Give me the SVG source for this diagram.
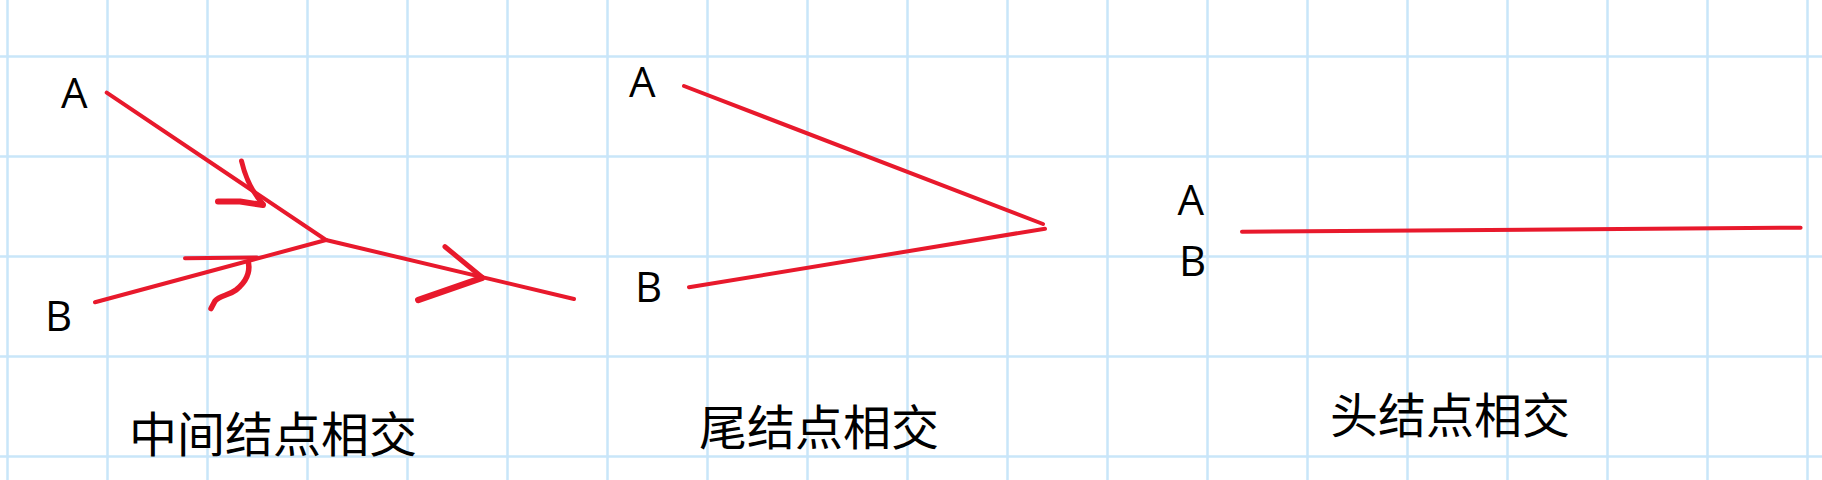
<svg xmlns="http://www.w3.org/2000/svg" width="1822" height="480" viewBox="0 0 1822 480">
<style>
.grid line{stroke:#c9e6f9;stroke-width:2.5}
.lbl{font-family:"Open Sans","Noto Sans",sans-serif;font-size:42px;fill:#000}
.ttl{font-family:"Noto Sans CJK SC","Noto Sans",sans-serif;font-size:48px;fill:#000}
.edge{stroke:#e8192c;stroke-width:4;stroke-linecap:round;fill:none}
.hand{stroke:#e8192c;stroke-linecap:round;stroke-linejoin:round;fill:none}
</style>
<rect width="1822" height="480" fill="#ffffff"/>
<g class="grid">
<line x1="7.5" y1="0" x2="7.5" y2="480"/><line x1="107.5" y1="0" x2="107.5" y2="480"/><line x1="207.5" y1="0" x2="207.5" y2="480"/><line x1="307.5" y1="0" x2="307.5" y2="480"/><line x1="407.5" y1="0" x2="407.5" y2="480"/><line x1="507.5" y1="0" x2="507.5" y2="480"/><line x1="607.5" y1="0" x2="607.5" y2="480"/><line x1="707.5" y1="0" x2="707.5" y2="480"/><line x1="807.5" y1="0" x2="807.5" y2="480"/><line x1="907.5" y1="0" x2="907.5" y2="480"/><line x1="1007.5" y1="0" x2="1007.5" y2="480"/><line x1="1107.5" y1="0" x2="1107.5" y2="480"/><line x1="1207.5" y1="0" x2="1207.5" y2="480"/><line x1="1307.5" y1="0" x2="1307.5" y2="480"/><line x1="1407.5" y1="0" x2="1407.5" y2="480"/><line x1="1507.5" y1="0" x2="1507.5" y2="480"/><line x1="1607.5" y1="0" x2="1607.5" y2="480"/><line x1="1707.5" y1="0" x2="1707.5" y2="480"/><line x1="1807.5" y1="0" x2="1807.5" y2="480"/>
<line x1="0" y1="56.5" x2="1822" y2="56.5"/><line x1="0" y1="156.5" x2="1822" y2="156.5"/><line x1="0" y1="256.5" x2="1822" y2="256.5"/><line x1="0" y1="356.5" x2="1822" y2="356.5"/><line x1="0" y1="456.5" x2="1822" y2="456.5"/>
</g>
<g id="connectors">
<line class="edge" x1="106.7" y1="92.7" x2="326" y2="240"/>
<line class="edge" x1="95" y1="302.3" x2="326" y2="240"/>
<line class="edge" x1="326" y1="240" x2="574" y2="299"/>
<path class="hand" stroke-width="5" d="M241.5,161 C245,176 251,191 263,204"/>
<path class="hand" stroke-width="6" d="M218,201.5 L240,201.5 L263,205"/>
<path class="hand" stroke-width="4" d="M185,258.3 L257,257.5"/>
<path class="hand" stroke-width="5.5" d="M248.5,263 C250,272 246,282 236,290 C228,296 220,295 215,301 L211,308.5"/>
<path class="hand" stroke-width="5" d="M445,246.7 L481.7,277"/>
<path class="hand" stroke-width="6.5" d="M481.7,278 L418.3,300"/>
<line class="edge" x1="684" y1="86" x2="1043" y2="224"/>
<line class="edge" x1="689" y1="287.3" x2="1045" y2="228.7"/>
<line class="edge" x1="1242" y1="231.7" x2="1800.6" y2="227.7"/>
</g>
<g id="p1-A"><text class="lbl" x="61" y="108.3">A</text></g>
<g id="p1-B"><text class="lbl" x="45" y="331">B</text></g>
<g id="p2-A"><text class="lbl" x="629" y="97.3">A</text></g>
<g id="p2-B"><text class="lbl" x="635" y="302.3">B</text></g>
<g id="p3-A"><text class="lbl" x="1177.5" y="215">A</text></g>
<g id="p3-B"><text class="lbl" x="1179" y="276">B</text></g>
<g id="t1"><text class="ttl" x="129" y="452">中间结点相交</text></g>
<g id="t2"><text class="ttl" x="699" y="445">尾结点相交</text></g>
<g id="t3"><text class="ttl" x="1330" y="433">头结点相交</text></g>
</svg>
